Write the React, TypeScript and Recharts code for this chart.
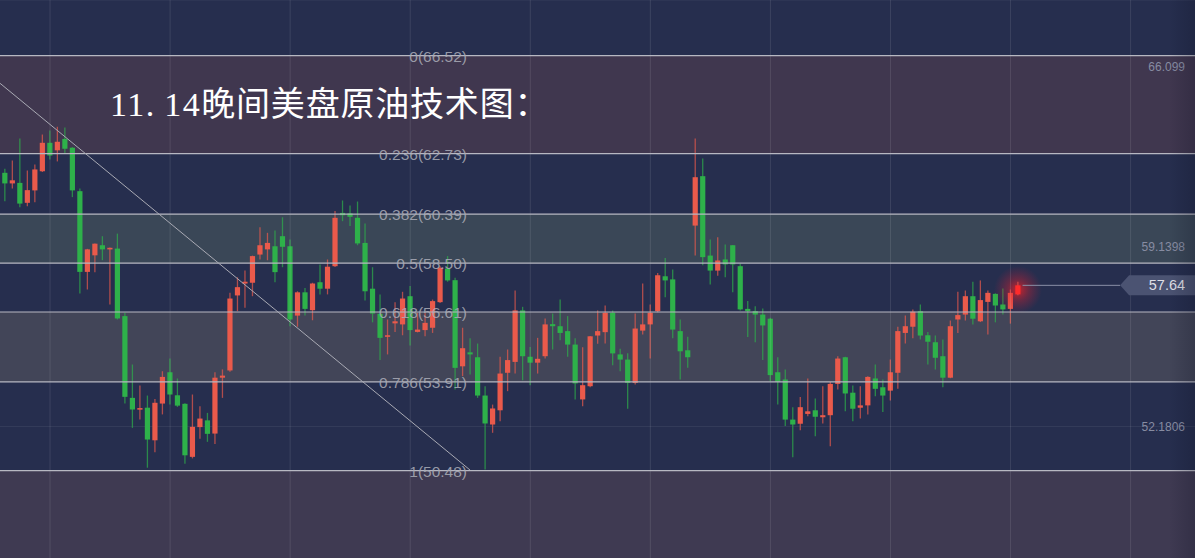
import React from 'react';
import {
  ComposedChart,
  Bar,
  XAxis,
  YAxis,
  ReferenceLine,
  ReferenceArea,
  Scatter,
  CartesianGrid,
} from 'recharts';

const W = 1195;
const H = 558;

// [open, high, low, close]
const ohlc: [number, number, number, number][] = [
  [61.99, 62.15, 60.89, 61.58], [61.58, 62.47, 61.38, 61.7], [61.6, 63.32, 60.66, 60.8], [60.83, 62.08, 60.7, 61.32],
  [61.31, 62.31, 60.85, 62.12], [62.05, 63.47, 62.02, 63.15], [63.15, 63.63, 62.5, 62.66], [62.86, 63.77, 62.43, 63.19],
  [63.3, 63.74, 62.76, 62.92], [62.96, 62.98, 61.05, 61.31], [61.28, 61.38, 57.32, 58.16], [58.16, 59.05, 57.48, 59.03],
  [58.8, 59.26, 58.15, 59.25], [59.19, 59.54, 58.61, 59.03], [59.03, 59.1, 56.9, 59.09], [59.06, 59.64, 56.32, 56.36],
  [56.45, 56.58, 53.07, 53.33], [53.29, 54.58, 52.13, 52.84], [52.84, 53.77, 52.45, 52.89], [52.91, 53.38, 50.59, 51.68],
  [51.65, 53.25, 51.19, 53.1], [53.07, 54.32, 52.65, 54.1], [54.28, 54.81, 53.03, 53.42], [53.39, 54.04, 52.94, 52.99],
  [53.06, 53.08, 50.74, 51.07], [51.01, 53.42, 50.95, 52.17], [52.16, 52.97, 51.71, 52.49], [52.42, 52.71, 51.59, 51.9],
  [51.91, 54.28, 51.51, 54.07], [54.07, 54.39, 53.29, 54.15], [54.35, 57.35, 54.3, 57.13], [57.25, 57.95, 56.64, 57.57],
  [57.71, 58.21, 56.77, 57.78], [57.74, 58.79, 57.22, 58.77], [58.83, 59.89, 58.64, 59.19], [59.03, 59.67, 58.61, 59.28],
  [59.15, 59.76, 57.76, 58.15], [59.54, 60.27, 58.34, 59.13], [59.15, 59.41, 56.06, 56.32], [56.47, 57.41, 56.04, 57.37],
  [57.37, 57.54, 56.47, 56.73], [56.68, 57.74, 56.29, 57.71], [57.76, 58.45, 57.29, 57.51], [57.51, 58.64, 57.29, 58.36],
  [58.38, 60.51, 58.35, 60.25], [60.44, 60.92, 60.12, 60.35], [60.42, 60.73, 59.93, 60.29], [60.25, 60.88, 59.19, 59.26],
  [59.28, 60.03, 57.05, 57.41], [57.51, 58.34, 56.21, 56.55], [56.54, 57.29, 54.75, 55.61], [55.65, 56.32, 54.97, 55.71],
  [56.17, 56.99, 55.84, 56.25], [56.13, 57.39, 55.71, 57.13], [57.22, 57.61, 55.31, 55.91], [55.84, 56.58, 55.82, 55.93],
  [55.91, 56.58, 55.67, 56.19], [56.0, 57.09, 55.8, 57.03], [56.99, 58.38, 56.96, 58.32], [58.29, 58.77, 57.78, 57.83],
  [57.84, 57.93, 53.61, 54.45], [54.51, 56.0, 54.13, 55.21], [55.05, 55.59, 54.19, 54.97], [54.86, 55.39, 53.29, 53.38],
  [53.38, 53.74, 50.52, 52.3], [52.26, 53.03, 51.94, 52.88], [52.81, 54.88, 52.39, 54.23], [54.26, 55.16, 53.55, 54.75],
  [54.68, 57.44, 54.23, 56.67], [56.67, 56.81, 53.97, 54.9], [54.88, 55.26, 53.78, 54.65], [54.65, 55.61, 54.23, 54.8],
  [54.9, 56.36, 54.81, 56.13], [56.14, 56.55, 55.16, 56.06], [56.06, 57.09, 55.52, 55.8], [55.87, 56.45, 54.88, 55.35],
  [55.35, 55.59, 53.23, 53.85], [53.23, 55.25, 52.97, 53.78], [53.74, 55.68, 53.7, 55.67], [55.7, 56.67, 55.38, 55.87],
  [55.83, 56.86, 55.39, 56.58], [56.58, 56.67, 54.55, 55.01], [54.97, 55.19, 54.32, 54.77], [54.77, 55.01, 52.87, 53.87],
  [53.87, 56.55, 53.81, 55.97], [55.89, 57.71, 55.74, 56.13], [56.13, 56.9, 54.81, 56.58], [56.64, 58.12, 56.6, 58.03],
  [57.99, 58.7, 57.18, 57.83], [57.87, 58.25, 55.59, 55.93], [55.87, 56.32, 54.0, 55.09], [55.13, 55.65, 54.45, 54.86],
  [59.95, 63.32, 58.79, 61.82], [61.86, 62.54, 58.42, 58.73], [58.79, 59.41, 57.67, 58.21], [58.21, 59.5, 58.01, 58.6],
  [58.64, 59.22, 57.95, 58.45], [59.19, 59.2, 57.37, 58.45], [58.38, 58.47, 56.67, 56.71], [56.73, 57.03, 55.64, 56.64],
  [56.64, 56.83, 55.44, 56.51], [56.51, 56.74, 54.75, 56.09], [56.35, 56.39, 53.93, 54.17], [54.28, 54.86, 53.03, 53.91],
  [54.0, 54.39, 52.2, 52.45], [52.45, 52.93, 50.99, 52.26], [52.29, 53.32, 52.04, 52.93], [52.67, 54.04, 52.58, 52.77],
  [52.81, 53.27, 51.81, 52.56], [52.54, 53.74, 52.3, 52.62], [52.62, 53.9, 51.42, 53.83], [53.83, 54.9, 53.61, 54.81],
  [54.86, 54.88, 52.77, 53.46], [53.49, 53.77, 52.39, 52.87], [52.91, 53.74, 52.49, 53.0], [53.0, 54.13, 52.65, 54.1],
  [54.04, 54.58, 53.35, 53.64], [53.7, 54.0, 52.74, 53.38], [53.57, 54.77, 53.19, 54.28], [54.26, 56.04, 53.64, 55.87],
  [55.8, 56.47, 55.39, 56.06], [56.04, 56.71, 55.59, 56.62], [56.64, 56.9, 55.55, 55.7], [55.71, 55.84, 54.58, 55.46],
  [55.44, 55.7, 54.39, 54.84], [54.9, 55.55, 53.7, 54.07], [54.07, 56.28, 54.05, 56.06], [56.32, 57.39, 55.8, 56.49],
  [56.51, 57.44, 56.28, 57.22], [57.22, 57.78, 56.13, 56.35], [56.25, 57.83, 56.22, 57.07], [57.0, 57.44, 55.74, 57.35],
  [57.31, 57.33, 56.21, 56.86], [56.9, 57.52, 56.51, 56.71], [56.73, 57.48, 56.16, 57.35], [57.29, 57.78, 57.26, 57.64],
];

const fibRatios = ['0', '0.236', '0.382', '0.5', '0.618', '0.786', '1'];
const fibPrices = [66.52, 62.73, 60.39, 58.5, 56.61, 53.91, 50.48];
const axisTicks = [52.1806, 59.1398, 66.099];
const gridX = [6, 22, 38, 54, 70, 86, 102, 118, 134, 150];
const lastPrice = 57.64;
const trendLine = [
  { x: -0.66, y: 65.45 },
  { x: 61.97, y: 50.5 },
];
const titleDate = ['11', '.', '14'];
const titleText = '晚间美盘原油技术图：';

const Y_DOMAIN: [number, number] = [47.1, 68.67];
const X_DOMAIN: [number, number] = [-0.666, 158.58];
const LABEL_X = 61.57;
const TAG_X = 148.6;
const LINE_START_X = 135.6;

const BG = '#262e4e';
const RED = '#ea5a4b';
const GREEN = '#2eb14a';
const bandFills = ['#40374f', null, '#3a4757', null, '#424558', null];
const BOTTOM_FILL = '#3f3a52';

const candles = ohlc.map(([o, h, l, c], i) => ({ i, o, h, l, c }));
const fibLabelRows = fibPrices.map((p, k) => ({
  i: LABEL_X,
  p,
  text: `${fibRatios[k]}(${p.toFixed(2)})`,
}));
const tagRows = [{ i: TAG_X, p: lastPrice }];

function Candle(props: any) {
  const { x, y, width, height, payload } = props;
  if (!payload || !isFinite(x) || !isFinite(y) || !isFinite(height)) return null;
  const { o, h, l, c, i } = payload;
  const k = height / (h - l);
  const py = (v: number) => y + (h - v) * k;
  const up = c >= o;
  const col = up ? RED : GREEN;
  const cx = x + width / 2;
  let top = py(Math.max(o, c));
  let bot = py(Math.min(o, c));
  if (bot - top < 1.6) {
    const m = (top + bot) / 2;
    top = m - 0.8;
    bot = m + 0.8;
  }
  const isLast = i === ohlc.length - 1;
  return (
    <g>
      {isLast && <circle cx={cx} cy={(top + bot) / 2} r={24} fill="url(#lastGlow)" />}
      <line x1={cx} x2={cx} y1={y} y2={y + height} stroke={col} strokeOpacity={0.7} strokeWidth={1.3} />
      <rect x={cx - 2.6} y={top} width={5.2} height={bot - top} fill={isLast ? '#ff2b2b' : col} />
    </g>
  );
}

function FibLabel(props: any) {
  const { cx, cy, payload } = props;
  if (!isFinite(cx) || !isFinite(cy)) return null;
  return (
    <text
      x={cx}
      y={cy + 6}
      textAnchor="end"
      fontSize={15.5}
      fontFamily="'Liberation Sans', Arial, sans-serif"
      fill="#a8aab5"
      fillOpacity={0.88}
    >
      {payload.text}
    </text>
  );
}

function PriceTag(props: any) {
  const { cx, cy, payload } = props;
  if (!isFinite(cx) || !isFinite(cy)) return null;
  const pts = [
    [cx, cy],
    [cx + 9, cy - 10],
    [cx + 80, cy - 10],
    [cx + 80, cy + 10],
    [cx + 9, cy + 10],
  ]
    .map((p) => p.join(','))
    .join(' ');
  return (
    <g>
      <polygon points={pts} fill="#4b5372" />
      <text
        x={cx + 65}
        y={cy + 5}
        textAnchor="end"
        fontSize={14.5}
        fontFamily="'Liberation Sans', Arial, sans-serif"
        fill="#dedfe6"
      >
        {payload.p.toFixed(2)}
      </text>
    </g>
  );
}

export default function App() {
  return (
    <div
      style={{
        position: 'absolute',
        left: 0,
        top: 0,
        width: W,
        height: H,
        background: BG,
        overflow: 'hidden',
      }}
    >
      <ComposedChart width={W} height={H} data={candles} margin={{ top: 0, right: 0, bottom: 0, left: 0 }}>
        <defs>
          <radialGradient id="lastGlow">
            <stop offset="0%" stopColor="#ff2020" stopOpacity={0.75} />
            <stop offset="45%" stopColor="#e02030" stopOpacity={0.35} />
            <stop offset="100%" stopColor="#c02040" stopOpacity={0} />
          </radialGradient>
        </defs>
        <XAxis type="number" dataKey="i" domain={X_DOMAIN} allowDataOverflow hide />
        <YAxis
          type="number"
          orientation="right"
          mirror
          domain={Y_DOMAIN}
          allowDataOverflow
          ticks={axisTicks}
          axisLine={false}
          tickLine={false}
          tickMargin={4}
          tick={{ fill: '#878ca2', fontSize: 12, fontFamily: "'Liberation Sans', Arial, sans-serif" }}
          tickFormatter={(v: number) => String(v)}
        />
        {bandFills.map((f, k) =>
          f ? (
            <ReferenceArea
              key={'band' + k}
              y1={fibPrices[k + 1]}
              y2={fibPrices[k]}
              fill={f}
              fillOpacity={1}
              stroke="none"
              ifOverflow="visible"
            />
          ) : null
        )}
        <ReferenceArea
          y1={Y_DOMAIN[0]}
          y2={fibPrices[fibPrices.length - 1]}
          fill={BOTTOM_FILL}
          fillOpacity={1}
          stroke="none"
          ifOverflow="visible"
        />
        <CartesianGrid vertical={false} stroke="#ffffff" strokeOpacity={0.07} />
        {gridX.map((gx) => (
          <ReferenceLine key={'gx' + gx} x={gx} stroke="#ffffff" strokeOpacity={0.1} strokeWidth={1} />
        ))}
        {fibPrices.map((p) => (
          <ReferenceLine key={'fib' + p} y={p} stroke="#b7b8c2" strokeWidth={1.2} />
        ))}
        <ReferenceLine segment={trendLine} stroke="#a9aab4" strokeWidth={1} ifOverflow="visible" />
        <ReferenceLine
          segment={[
            { x: LINE_START_X, y: lastPrice },
            { x: TAG_X, y: lastPrice },
          ]}
          stroke="#8a90a6"
          strokeWidth={1}
        />
        <Bar dataKey={(d: any) => [d.l, d.h]} barSize={5} shape={Candle} isAnimationActive={false} />
        <Scatter data={fibLabelRows} dataKey="p" shape={FibLabel} isAnimationActive={false} />
        <Scatter data={tagRows} dataKey="p" shape={PriceTag} isAnimationActive={false} />
      </ComposedChart>
      <div
        style={{
          position: 'absolute',
          left: 110,
          top: 88,
          fontSize: 34,
          lineHeight: '34px',
          letterSpacing: 1.5,
          color: '#ffffff',
          fontFamily: "'Liberation Serif', 'DejaVu Serif', 'Noto Sans CJK SC', serif",
          whiteSpace: 'nowrap',
          pointerEvents: 'none',
        }}
      >
        <span>{titleDate[0]}</span>
        <span style={{ letterSpacing: 10 }}>{titleDate[1]}</span>
        <span>{titleDate[2]}</span>
        <span style={{ letterSpacing: 0.8 }}>{titleText}</span>
      </div>
      <div
        style={{
          position: 'absolute',
          right: 0,
          top: 0,
          width: 26,
          height: H,
          background: 'linear-gradient(to right, rgba(10,12,30,0), rgba(10,12,30,0.22))',
          pointerEvents: 'none',
        }}
      />
    </div>
  );
}
